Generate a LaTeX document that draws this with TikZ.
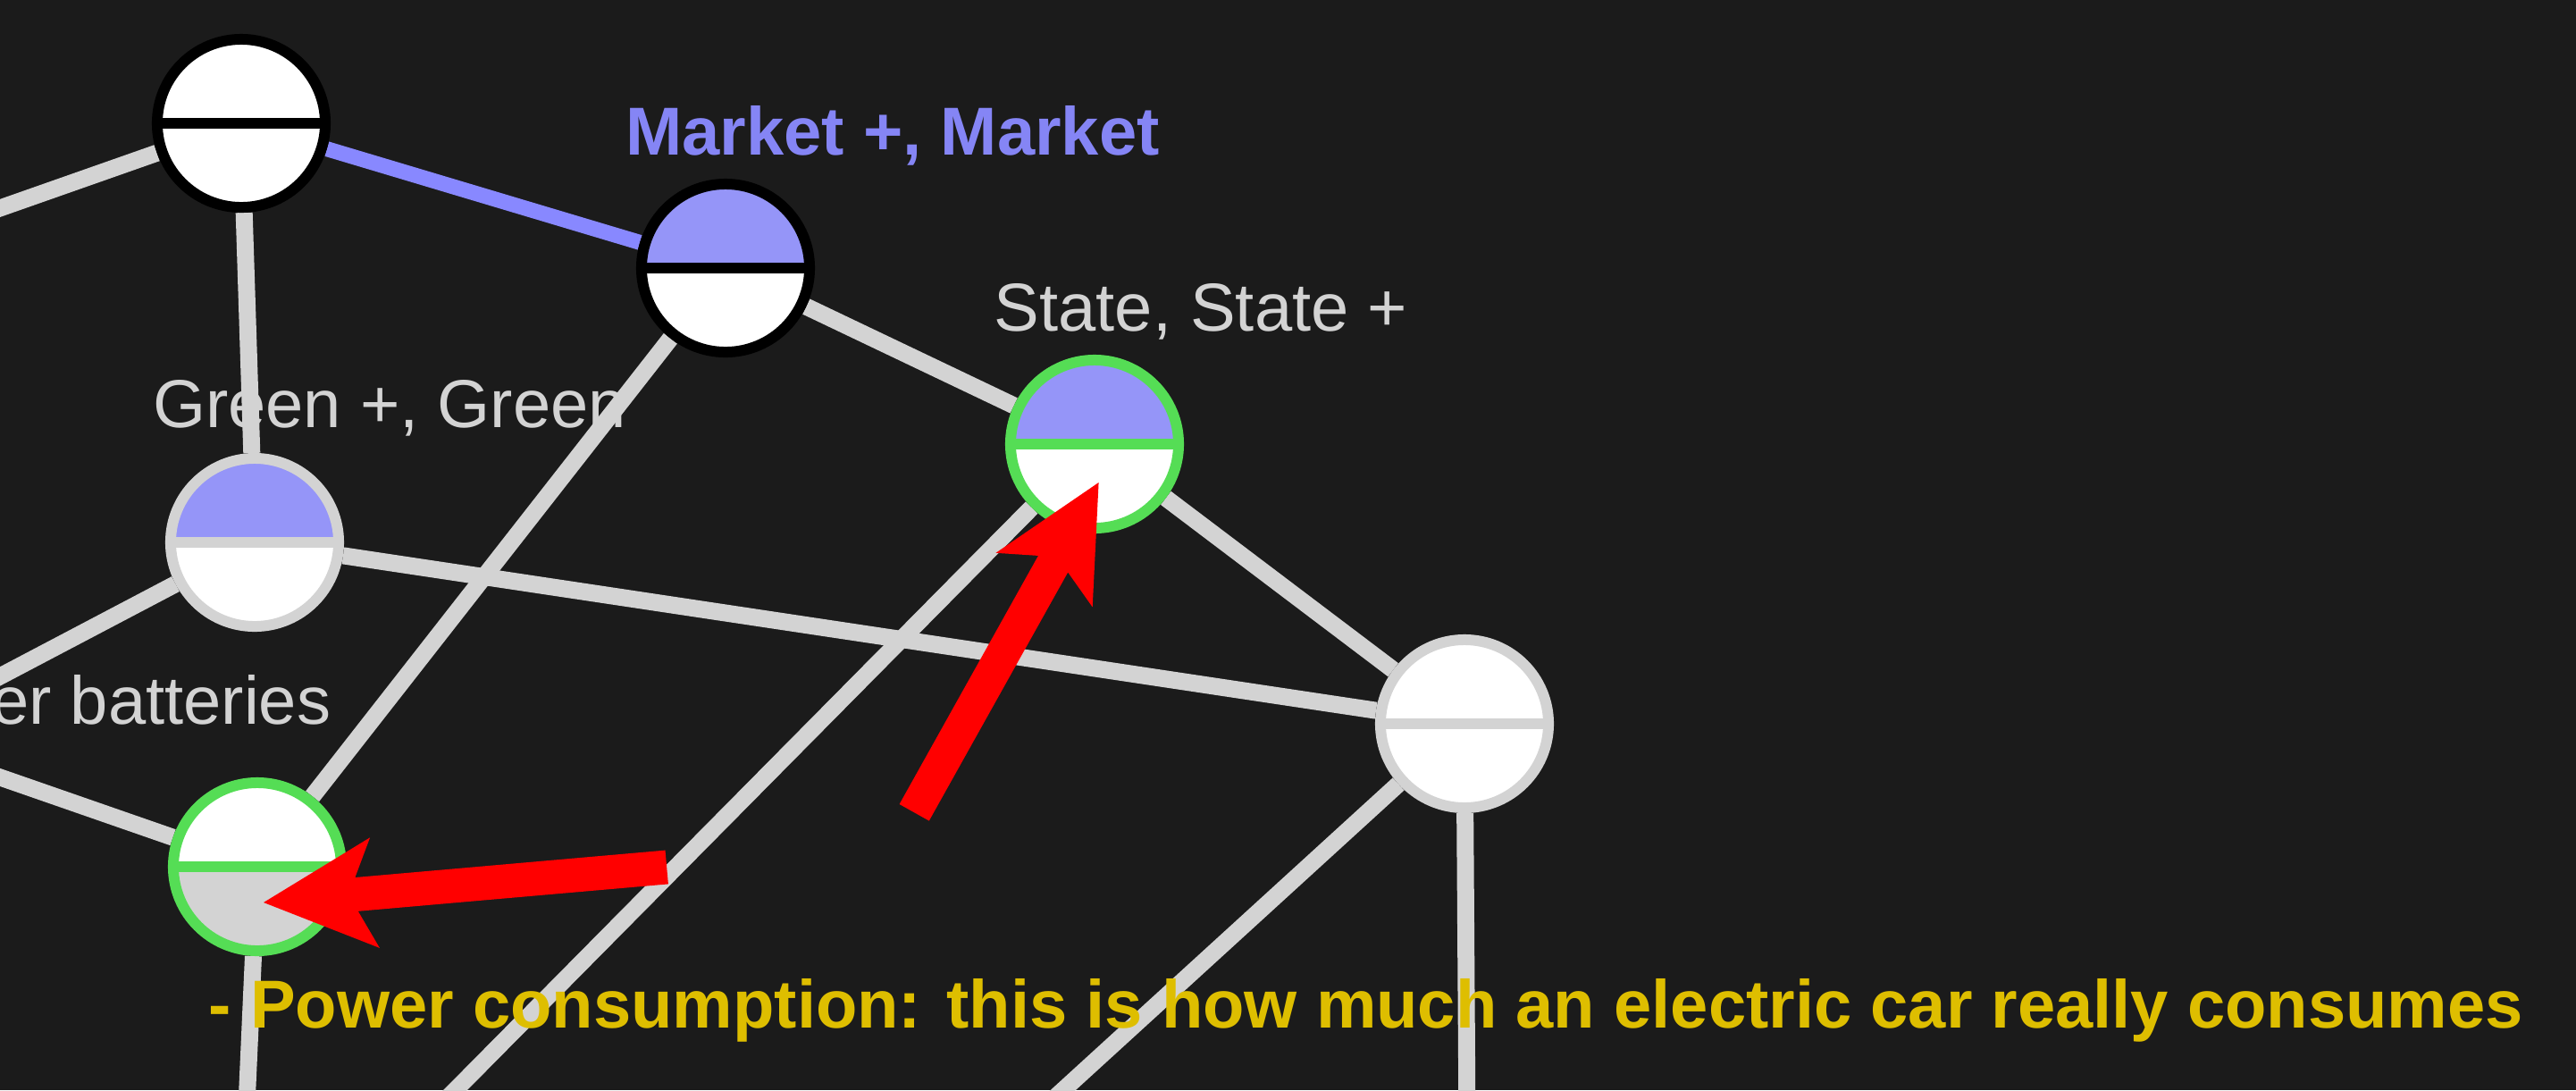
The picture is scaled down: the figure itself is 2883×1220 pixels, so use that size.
\documentclass[tikz,border=0pt]{standalone}
\usepackage{fontspec}
\setmainfont{Liberation Sans}
\pgfdeclarelayer{bg}
\pgfdeclarelayer{edges}
\pgfsetlayers{bg,edges,main}
\definecolor{bgc}{HTML}{1B1B1B}
\definecolor{edgec}{HTML}{D3D3D3}
\definecolor{bluefill}{HTML}{9595F8}
\definecolor{blueline}{HTML}{8888FF}
\definecolor{bluetext}{HTML}{8585F5}
\definecolor{greenb}{HTML}{55DD55}
\definecolor{goldc}{HTML}{DEBE00}
\definecolor{redc}{HTML}{FF0000}
\tikzset{
  splitnode/.style n args={3}{circle, minimum size=1.88cm, inner sep=0pt,
    draw=#3, line width=0.12cm,
    path picture={
      \fill[#1] (path picture bounding box.north west) rectangle (path picture bounding box.east);
      \fill[#2] (path picture bounding box.west) rectangle (path picture bounding box.south east);
      \draw[#3, line width=0.12cm] (path picture bounding box.west) -- (path picture bounding box.east);
    }},
  edgeline/.style={draw=edgec, line width=0.19cm},
  blueedge/.style={draw=blueline, line width=0.17cm},
  lbl/.style={text=edgec, font=\fontsize{21.6}{26}\selectfont, inner sep=0pt, anchor=base},
  boldlbl/.style={font=\bfseries\fontsize{21.6}{26}\selectfont, inner sep=0pt},
  redarrow/.style={fill=redc}
}
\begin{document}
\begin{tikzpicture}[x=0.01cm, y=-0.01cm]
\useasboundingbox (0,0) rectangle (2883,1220);
\begin{pgfonlayer}{bg}
\fill[bgc] (0,0) rectangle (2883,1220);
\end{pgfonlayer}
\clip (0,0) rectangle (2883,1220);

% nodes
\node[splitnode={white}{white}{black}] (A) at (270,138) {};
\node[splitnode={bluefill}{white}{black}] (B) at (812,300) {};
\node[splitnode={bluefill}{white}{greenb}] (C) at (1225,497) {};
\node[splitnode={bluefill}{white}{edgec}] (D) at (285,607) {};
\node[splitnode={white}{white}{edgec}] (E) at (1639,810) {};
\node[splitnode={white}{edgec}{greenb}] (F) at (288,970) {};

% free ends
\coordinate (L1) at (-40,247);
\coordinate (L2) at (-40,778);
\coordinate (L3) at (-40,856);
\coordinate (B1) at (275,1260);
\coordinate (B2) at (470,1260);
\coordinate (B3) at (1146,1260);
\coordinate (B4) at (1642,1260);

\begin{pgfonlayer}{edges}
\draw[edgeline] (A) -- (L1);
\draw[blueedge] (A) -- (B);
\draw[edgeline] (A) -- (D);
\draw[edgeline] (B) -- (C);
\draw[edgeline] (B) -- (F);
\draw[edgeline] (C) -- (E);
\draw[edgeline] (C) -- (B2);
\draw[edgeline] (D) -- (E);
\draw[edgeline] (D) -- (L2);
\draw[edgeline] (F) -- (L3);
\draw[edgeline] (F) -- (B1);
\draw[edgeline] (E) -- (B3);
\draw[edgeline] (E) -- (B4);
\end{pgfonlayer}

% labels
\node[boldlbl, text=bluetext, anchor=base] (tM) at (999,173) {Market +, Market};
\node[lbl] (tS) at (1344,370) {State, State +};
\node[lbl] (tG) at (436,478) {Green +, Green};
\node[lbl, anchor=base east] (tB) at (371,810) {er batteries};
\node[boldlbl, text=goldc, anchor=base west] (tP) at (233,1150) {- Power consumption: this is how much an electric car really consumes};

% red arrows
\fill[redarrow] (1229.6,540) -- (1114.5,618.8) -- (1162,621.9) -- (1006.6,900) -- (1039.8,918.6) -- (1195.2,640.5) -- (1222.7,679.4) -- cycle;
\fill[redarrow] (295,1010) -- (414.1,937.3) -- (397.4,982) -- (744.5,951.6) -- (747.9,989.4) -- (400.8,1019.8) -- (424.9,1060.9) -- cycle;
\end{tikzpicture}
\end{document}
